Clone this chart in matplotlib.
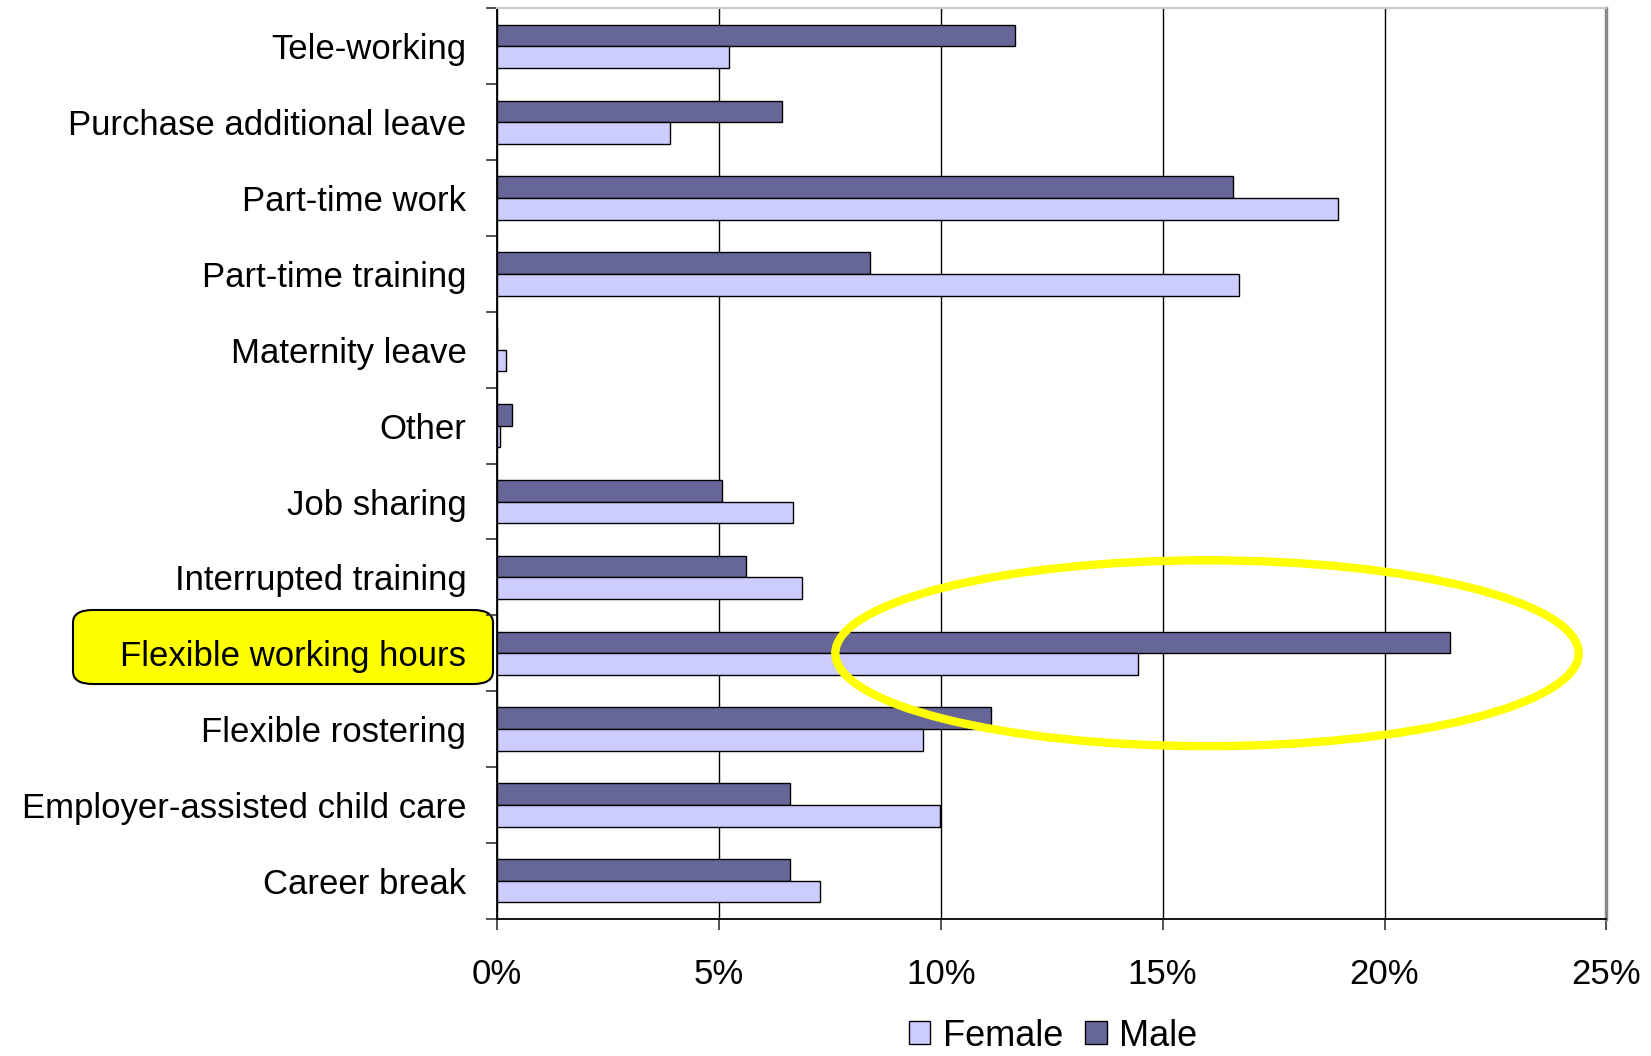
import matplotlib
matplotlib.use("Agg")
import matplotlib.pyplot as plt
import numpy as np
from matplotlib.patches import Ellipse, FancyBboxPatch
from matplotlib.ticker import FuncFormatter

plt.rcParams['font.family'] = ['Liberation Sans', 'DejaVu Sans']

categories = ["Tele-working", "Purchase additional leave", "Part-time work",
              "Part-time training", "Maternity leave", "Other", "Job sharing",
              "Interrupted training", "Flexible working hours", "Flexible rostering",
              "Employer-assisted child care", "Career break"]
male = [11.68, 6.42, 16.59, 8.41, 0.0, 0.33, 5.07, 5.62, 21.47, 11.14, 6.61, 6.61]
female = [5.24, 3.91, 18.96, 16.71, 0.21, 0.07, 6.66, 6.87, 14.45, 9.60, 9.98, 7.27]
xticks = [0, 5, 10, 15, 20, 25]

fig = plt.figure(figsize=(16.51, 10.56), dpi=100)
ax = fig.add_axes([0.301, 0.130, 0.672, 0.862])

n = len(categories)
y = np.arange(n)[::-1].astype(float)
h = 0.285
ax.barh(y + h / 2, male, height=h, color="#666699", edgecolor="black", linewidth=1.0, label="Male", zorder=3)
ax.barh(y - h / 2, female, height=h, color="#CCCCFF", edgecolor="black", linewidth=1.0, label="Female", zorder=3)

ax.set_xlim(0, 25)
ax.set_ylim(-0.5, n - 0.5)
ax.set_xticks(xticks)
ax.xaxis.set_major_formatter(FuncFormatter(lambda v, p: f"{v:.0f}%"))
ax.tick_params(axis='x', length=8, width=1.2, pad=20, labelsize=25, direction='out', color='#333333')
ax.grid(axis='x', color='black', linewidth=1.0, zorder=0)

ax.set_yticks(np.arange(n + 1) - 0.5)
ax.set_yticklabels([])
ax.set_yticks(y, minor=True)
ax.set_yticklabels(categories, minor=True)
ax.tick_params(axis='y', which='major', length=8, width=1.2, direction='out', color='#333333')
ax.tick_params(axis='y', which='minor', length=0, pad=22, labelsize=25)

for s in ['left', 'bottom']:
    ax.spines[s].set_color('black')
    ax.spines[s].set_linewidth(1.3)
ax.spines['top'].set_color('#c8c8c8')
ax.spines['top'].set_linewidth(1.5)
ax.spines['right'].set_color('#888888')
ax.spines['right'].set_linewidth(2.5)

# highlight box behind "Flexible working hours" label
box = FancyBboxPatch((73 / 1651, 1 - 684 / 1056), (493 - 73) / 1651, (684 - 610) / 1056,
                     boxstyle="round,pad=0,rounding_size=0.012", transform=fig.transFigure,
                     facecolor="#FFFF00", edgecolor="black", linewidth=1.5, zorder=0.5, clip_on=False)
ax.add_patch(box)

# yellow ellipse
idx = categories.index("Flexible working hours")
ell = Ellipse((16.0, y[idx]), width=16.75, height=2.45, fill=False, edgecolor="#FFFF00",
              linewidth=6, zorder=5, clip_on=False)
ax.add_patch(ell)

handles, labels = ax.get_legend_handles_labels()
leg = fig.legend(handles[::-1], labels[::-1], loc='center', bbox_to_anchor=(1053 / 1651, 1 - 1036 / 1056),
                 ncol=2, frameon=False, fontsize=26, handlelength=0.6, handleheight=0.6,
                 handletextpad=0.35, columnspacing=0.6, borderpad=0)

fig.savefig("out.png", dpi=100)
